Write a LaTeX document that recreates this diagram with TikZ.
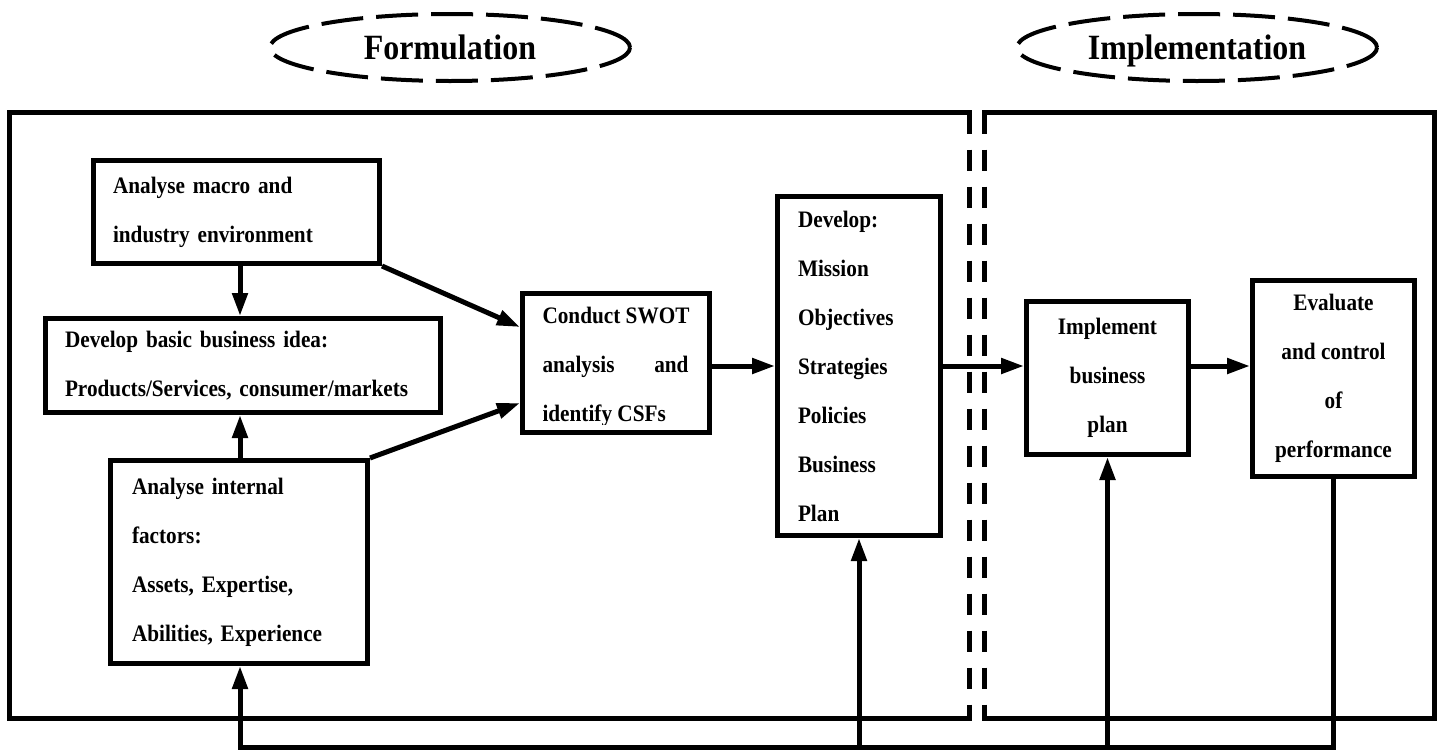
\documentclass[tikz,border=0pt]{standalone}
\usepackage{fontspec}
\setmainfont{Liberation Serif}[FakeStretch=0.9]
\usetikzlibrary{arrows.meta,shapes.geometric}
\begin{document}
\begin{tikzpicture}[x=1pt,y=-1pt,
  every node/.style={font=\bfseries\fontsize{23.6}{49}\selectfont},
  box/.style={draw, line width=5pt, rectangle, inner xsep=0pt, inner ysep=0pt, align=left},
  cbox/.style={draw, line width=5pt, rectangle, inner sep=0pt, align=center},
  phase/.style={draw, line width=4pt, ellipse, dash pattern=on 42pt off 13pt,
    minimum width=360pt, minimum height=67pt, inner sep=0pt,
    text height=24pt, text depth=0pt,
    font=\bfseries\fontsize{35.5}{40}\selectfont},
  frame/.style={line width=5pt, line cap=rect},
  divider/.style={line width=5pt, dash pattern=on 21pt off 16pt},
  flow/.style={line width=5pt, -{Triangle[length=23pt,width=15pt]}},
]
\useasboundingbox (0,0) rectangle (1439,750);

% phase labels
\node[phase] (formulation) at (450,47.5) {Formulation};
\node[phase] (implementation) at (1197,47.5) {Implementation};

% the two phase frames, split by a dashed double line
\draw[frame] (969.5,112.5) -- (9.5,112.5) -- (9.5,718.5) -- (969.5,718.5);
\draw[divider] (969.5,112.5) -- (969.5,718.5);
\draw[frame] (984.5,112.5) -- (1434,112.5) -- (1434,718.5) -- (984.5,718.5);
\draw[divider] (984.5,112.5) -- (984.5,718.5);

% process steps
\node[box, minimum width=286pt, minimum height=103pt, text width=247pt] (macro) at (236.5,212)
  {Analyse macro and\\ industry environment};
\node[box, minimum width=395pt, minimum height=94pt, text width=356pt] (idea) at (243,365.5)
  {Develop basic business idea:\\ Products/Services, consumer/markets};
\node[box, minimum width=257pt, minimum height=203pt, text width=214pt] (internal) at (239,562)
  {Analyse internal\\ factors:\\ Assets, Expertise,\\ Abilities, Experience};
\node[box, minimum width=187pt, minimum height=139pt] (swot) at (616,363) {};
\begin{scope}
  \clip (swot.north west) rectangle ([yshift=11pt]swot.south east);
  \node[align=left, inner sep=0pt] (swottext) at (616,366.5)
    {Conduct SWOT\\ \makebox[146pt][s]{analysis\hfill and}\\ identify CSFs};
\end{scope}
\node[box, minimum width=163pt, minimum height=339pt, text width=122pt] (plan) at (859,366)
  {Develop:\\ Mission\\ Objectives\\ Strategies\\ Policies\\ Business\\ Plan};
\node[cbox, minimum width=162pt, minimum height=153pt] (impl) at (1107.5,378)
  {Implement\\ business\\ plan};
\node[cbox, minimum width=162pt, minimum height=196pt] (eval) at (1333.5,378.5)
  {Evaluate\\ and control\\ of\\ performance};

% helper coordinates
\coordinate (spine) at (240,0);
\coordinate (row) at (0,366);
\coordinate (fb) at (0,747);

% forward flow
\draw[flow] (macro.south -| spine) -- (idea.north -| spine);
\draw[flow] (internal.north -| spine) -- (idea.south -| spine);
\draw[flow] (macro.south east) -- ([yshift=36pt]swot.west);
\draw[flow] (internal.north east) -- ([yshift=-40pt]swot.west);
\draw[flow] (swot.east |- row) -- (plan.west |- row);
\draw[flow] (plan.east |- row) -- (impl.west |- row);
\draw[flow] (impl.east |- row) -- (eval.west |- row);

% feedback loop
\draw[flow] (eval.south) -- (eval.south |- fb) -- (spine |- fb) -- (internal.south -| spine);
\draw[flow] (plan.south |- fb) -- (plan.south);
\draw[flow] (impl.south |- fb) -- (impl.south);
\end{tikzpicture}
\end{document}
